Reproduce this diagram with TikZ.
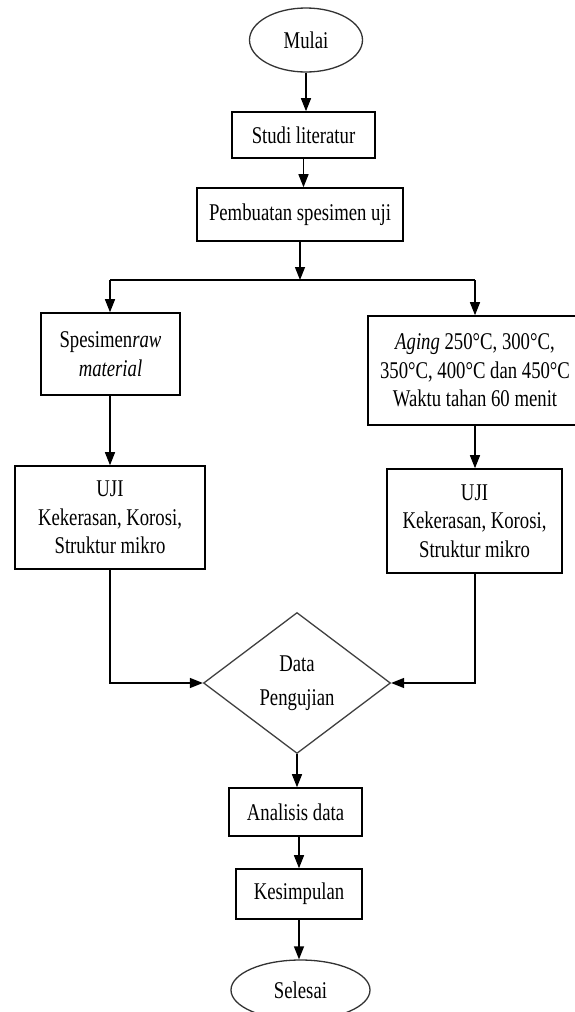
\documentclass[tikz,border=0pt]{standalone}
\usepackage{fontspec}
\setmainfont{Liberation Serif}[FakeStretch=0.78]
\usepackage{tikz}
\usetikzlibrary{arrows.meta, shapes.geometric}
\tikzset{
    flow/.style={-{Triangle[width=10pt,length=13pt]}, line width=1.4pt},
    link/.style={line width=1.4pt},
    box/.style={draw, rectangle, line width=1.6pt, inner sep=0pt, align=center},
    terminal/.style={draw=black!80, ellipse, line width=1.3pt, inner sep=0pt},
    decision/.style={draw=black!75, diamond, line width=1.3pt, inner sep=0pt, align=center},
    every node/.style={font=\fontsize{24pt}{28.5pt}\selectfont}
}

\begin{document}
\begin{tikzpicture}[x=1pt, y=-1pt]
    \clip (0,0) rectangle (575,1012);
    % Top of the chart
    \node[terminal, minimum width=113pt, minimum height=64pt] (mulai) at (306,40) {Mulai};
    \node[box, minimum width=143pt, minimum height=46pt] (studi) at (303.5,135) {Studi literatur};
    \node[box, minimum width=206pt, minimum height=53pt] (buat) at (300,214.5) {Pembuatan spesimen uji};
    \coordinate (split) at (300,280);
    \coordinate (splitL) at (110,280);
    \coordinate (splitR) at (475,280);
    % Two branches
    \node[box, minimum width=139pt, minimum height=82pt] (raw) at (110.5,354) {Spesimen\textit{raw}\\\textit{material}};
    \node[box, minimum width=214pt, minimum height=109pt] (aging) at (475,370.5) {\textit{Aging} 250°C, 300°C,\\350°C, 400°C dan 450°C\\Waktu tahan 60 menit};
    \node[box, minimum width=190pt, minimum height=103pt] (ujiL) at (110,517.5) {UJI\\Kekerasan, Korosi,\\Struktur mikro};
    \node[box, minimum width=175pt, minimum height=104pt] (ujiR) at (474.5,521) {UJI\\Kekerasan, Korosi,\\Struktur mikro};
    % Bottom of the chart
    \node[decision, minimum width=187pt, minimum height=141pt] (data) at (297,683) {Data\\[5pt]Pengujian};
    \node[box, minimum width=133pt, minimum height=48pt] (analisis) at (295.5,812) {Analisis data};
    \node[box, minimum width=126pt, minimum height=50pt] (simpul) at (299,894) {Kesimpulan};
    \node[terminal, minimum width=139pt, minimum height=60pt] (selesai) at (300.5,990) {Selesai};
    % Connectors
    \draw[flow] (mulai.south) -- (mulai.south |- studi.north);
    \draw[flow] (studi.south) -- (studi.south |- buat.north);
    \draw[flow] (buat.south) -- (split);
    \draw[link] (splitL) -- (splitR);
    \draw[flow] (splitL) -- (raw.north -| splitL);
    \draw[flow] (splitR) -- (aging.north);
    \draw[flow] (raw.south -| splitL) -- (ujiL.north);
    \draw[flow] (aging.south) -- (aging.south |- ujiR.north);
    \draw[flow] (ujiL.south) |- (data.west);
    \draw[flow] (ujiR.south -| aging.south) |- (data.east);
    \draw[flow] (data.south) -- (data.south |- analisis.north);
    \draw[flow] (analisis.south -| simpul.north) -- (simpul.north);
    \draw[flow] (simpul.south) -- (simpul.south |- selesai.north);
\end{tikzpicture}
\end{document}
